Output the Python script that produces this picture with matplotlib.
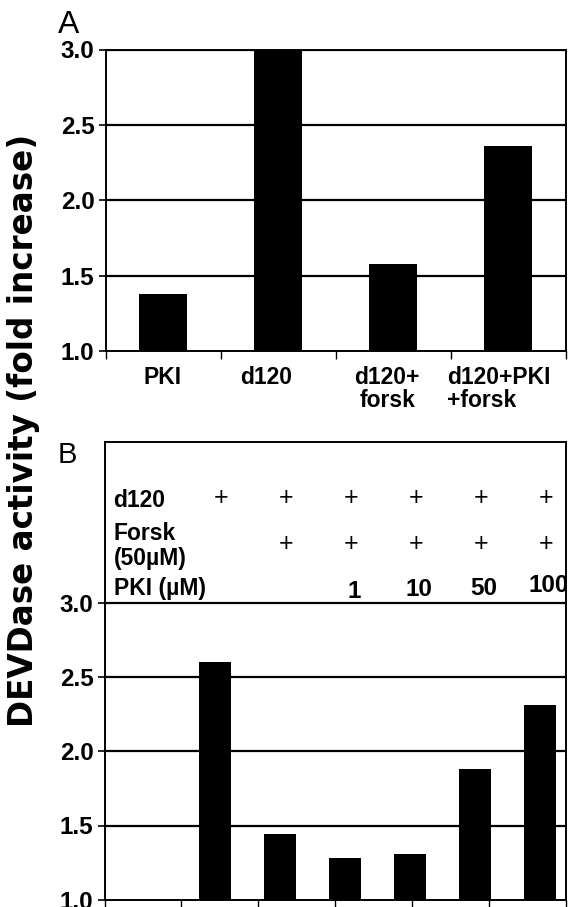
import numpy as np
import matplotlib
matplotlib.use("Agg")
import matplotlib.pyplot as plt
import matplotlib.transforms as mtransforms

plt.rcParams['font.family'] = ['Liberation Sans', 'DejaVu Sans']

# panel A
a_labels = ["PKI", "d120", "d120+\nforsk", "d120+PKI\n+forsk"]
a_values = [1.38, 3.0, 1.58, 2.36]

# panel B
b_values = [1.0, 2.60, 1.44, 1.28, 1.31, 1.88, 2.31]
b_d120 = [0, 1, 1, 1, 1, 1, 1]
b_forsk = [0, 0, 1, 1, 1, 1, 1]
b_pki = ["", "", "", "1", "10", "50", "100"]
b_pki_y = [0, 0, 0, 3.075, 3.09, 3.10, 3.12]

yticks = [1.0, 1.5, 2.0, 2.5, 3.0]
W, H = 568, 907


def place(ax, x0, y0, x1, y1):
    ax.set_position([x0 / W, 1 - y1 / H, (x1 - x0) / W, (y1 - y0) / H])


def style(ax):
    for s in ax.spines.values():
        s.set_linewidth(1.4)
        s.set_color("black")
    ax.set_yticks(yticks)
    ax.set_yticklabels([f"{t:.1f}" for t in yticks], fontsize=17.5, fontweight="bold")
    ax.tick_params(axis="y", length=5, width=1.2, pad=3)
    ax.tick_params(axis="x", which="major", length=6, width=1.0, labelbottom=False)
    for t in yticks[1:]:
        ax.axhline(t, color="black", lw=1.6, zorder=0)
    ax.set_axisbelow(True)


fig = plt.figure(figsize=(5.68, 9.07), dpi=100)

axA = fig.add_axes([0, 0, 1, 1])
place(axA, 105.5, 49.5, 565.7, 351)
xa = np.arange(len(a_values))
axA.bar(xa, np.array(a_values) - 1.0, bottom=1.0, width=0.42, color="black", zorder=2)
axA.set_xlim(-0.5, 3.5)
axA.set_ylim(1.0, 3.0)
style(axA)
axA.set_xticks(np.arange(-0.5, 4.0, 1.0))
axA.set_xticks(xa, minor=True)
axA.set_xticklabels(a_labels, minor=True, fontsize=16.5, fontweight="bold", linespacing=1.0)
axA.tick_params(axis="x", which="minor", length=0, pad=11)
# the labels sit a little left of their bars in the figure
shifts = [0, -12, -6, -9]
for lbl, dx in zip(axA.get_xticklabels(minor=True), shifts):
    lbl.set_transform(lbl.get_transform() + mtransforms.ScaledTranslation(dx / 100, 0, fig.dpi_scale_trans))
axA.get_xticklabels(minor=True)[3].set_multialignment("left")
fig.text(69 / W, 1 - 25 / H, "A", fontsize=23, ha="center", va="center")

axB = fig.add_axes([0, 0, 1, 1])
place(axB, 104.5, 441.7, 566, 899.7)
xb = np.arange(len(b_values))
axB.bar(xb, np.array(b_values) - 1.0, bottom=1.0, width=0.49, color="black", zorder=2)
x_lo, x_hi = -0.70, 6.4
axB.set_xlim(x_lo, x_hi)
axB.set_ylim(1.0, 1 + (899.7 - 441.7) / 148.4)
style(axB)
axB.set_xticks(np.linspace(x_lo, x_hi, 7))

row_x = -0.56
lab = dict(fontsize=16.5, fontweight="bold", ha="left", va="center")
axB.text(row_x, 3.69, "d120", **lab)
axB.text(row_x, 3.47, "Forsk", **lab)
axB.text(row_x, 3.30, "(50µM)", **lab)
axB.text(row_x, 3.10, "PKI (µM)", **lab)
for i in xb:
    if b_d120[i]:
        axB.text(i + 0.1, 3.71, "+", fontsize=18, ha="center", va="center")
    if b_forsk[i]:
        axB.text(i + 0.1, 3.40, "+", fontsize=18, ha="center", va="center")
    if b_pki[i]:
        axB.text(i + 0.14, b_pki_y[i], b_pki[i], fontsize=17.5, fontweight="bold",
                 ha="center", va="center", clip_on=True)
fig.text(67 / W, 1 - 455 / H, "B", fontsize=21, ha="center", va="center")

fig.text(24 / W, 1 - 430 / H, "DEVDase activity (fold increase)", rotation=90,
         fontsize=23.5, fontweight="bold", family="DejaVu Sans", ha="center", va="center")

fig.savefig("out.png", dpi=100)
